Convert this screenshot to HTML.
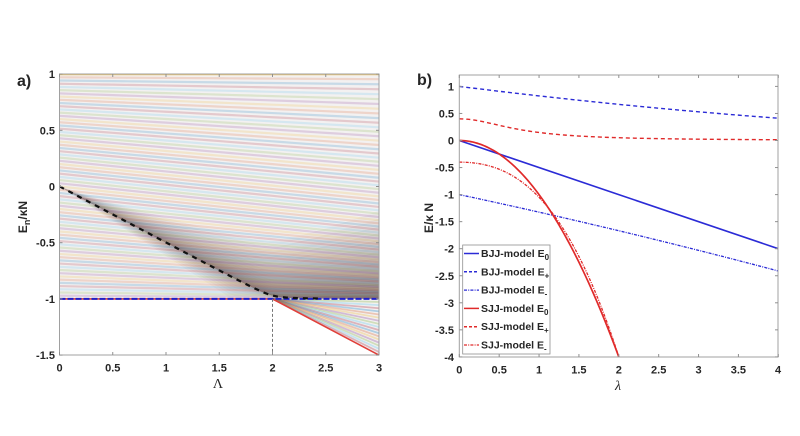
<!DOCTYPE html>
<html><head><meta charset="utf-8">
<style>
html,body{margin:0;padding:0;background:#fff;}
svg{display:block;}
text{font-family:"Liberation Sans",Arial,sans-serif;fill:#262626;}
.tk{font-size:11px;font-weight:bold;}
.lg{font-size:10.5px;font-weight:bold;}
</style></head><body>
<svg id="s" width="800" height="436" viewBox="0 0 800 436" xmlns="http://www.w3.org/2000/svg">
<defs>
<clipPath id="cl"><rect x="59.5" y="74" width="319.5" height="281"/></clipPath>
<clipPath id="cr"><rect x="459.3" y="75" width="318.7" height="282"/></clipPath>
</defs>
<rect x="0" y="0" width="800" height="436" fill="#fff"/>
<g id="left" clip-path="url(#cl)"></g>
<g id="right" clip-path="url(#cr)"></g>

<!-- left axes -->
<rect x="59.5" y="74" width="319.5" height="281" fill="none" stroke="#a0a0a0" stroke-width="1"/>
<g id="lticks" stroke="#909090" stroke-width="1"></g>
<g class="tk" text-anchor="end">
<text x="55" y="78">1</text>
<text x="55" y="134.3">0.5</text>
<text x="55" y="190.5">0</text>
<text x="55" y="246.7">-0.5</text>
<text x="55" y="302.9">-1</text>
<text x="55" y="359.1">-1.5</text>
</g>
<g class="tk" text-anchor="middle">
<text x="59.5" y="371.5">0</text>
<text x="112.75" y="371.5">0.5</text>
<text x="166" y="371.5">1</text>
<text x="219.25" y="371.5">1.5</text>
<text x="272.5" y="371.5">2</text>
<text x="325.75" y="371.5">2.5</text>
<text x="379" y="371.5">3</text>
</g>
<text x="218" y="388" text-anchor="middle" style="font-family:'Liberation Serif',serif;font-size:14px;">Λ</text>
<text transform="translate(27,217) rotate(-90)" text-anchor="middle" style="font-size:12px;font-weight:bold;">E<tspan dy="3" font-size="9">n</tspan><tspan dy="-3">/κN</tspan></text>
<text x="17" y="86" style="font-size:16px;font-weight:bold;">a)</text>

<!-- right axes -->
<rect x="459.3" y="75" width="318.7" height="282" fill="none" stroke="#a0a0a0" stroke-width="1"/>
<g id="rticks" stroke="#909090" stroke-width="1"></g>
<g class="tk" text-anchor="end">
<text x="454" y="90.4">1</text>
<text x="454" y="117.5">0.5</text>
<text x="454" y="144.5">0</text>
<text x="454" y="171.6">-0.5</text>
<text x="454" y="198.6">-1</text>
<text x="454" y="225.7">-1.5</text>
<text x="454" y="252.7">-2</text>
<text x="454" y="279.8">-2.5</text>
<text x="454" y="306.8">-3</text>
<text x="454" y="333.9">-3.5</text>
<text x="454" y="360.9">-4</text>
</g>
<g class="tk" text-anchor="middle">
<text x="459.3" y="373.5">0</text>
<text x="499.2" y="373.5">0.5</text>
<text x="539.1" y="373.5">1</text>
<text x="578.9" y="373.5">1.5</text>
<text x="618.8" y="373.5">2</text>
<text x="658.7" y="373.5">2.5</text>
<text x="698.6" y="373.5">3</text>
<text x="738.4" y="373.5">3.5</text>
<text x="778" y="373.5">4</text>
</g>
<text x="618" y="390" text-anchor="middle" style="font-family:'Liberation Serif',serif;font-size:14px;font-style:italic;">λ</text>
<text transform="translate(433,218) rotate(-90)" text-anchor="middle" style="font-size:12px;font-weight:bold;">E/κ N</text>
<text x="417" y="85" style="font-size:16px;font-weight:bold;">b)</text>

<!-- legend -->
<rect x="462.7" y="245" width="87.3" height="109" fill="#fff" stroke="#909090" stroke-width="0.8"/>
<g fill="none" stroke-width="1.5">
<line x1="464" y1="253.5" x2="479" y2="253.5" stroke="#2b2bd6"/>
<line x1="464" y1="271.8" x2="479" y2="271.8" stroke="#2b2bd6" stroke-dasharray="3 2"/>
<line x1="464" y1="290.1" x2="479" y2="290.1" stroke="#2b2bd6" stroke-dasharray="3 1.2 1 1.2" stroke-width="1.2"/>
<line x1="464" y1="308.4" x2="479" y2="308.4" stroke="#e02a2a"/>
<line x1="464" y1="326.7" x2="479" y2="326.7" stroke="#e02a2a" stroke-dasharray="3 2"/>
<line x1="464" y1="345" x2="479" y2="345" stroke="#e02a2a" stroke-dasharray="3 1.2 1 1.2" stroke-width="1.2"/>
</g>
<g class="lg">
<text x="481" y="257">BJJ-model E<tspan dy="3" font-size="8">0</tspan></text>
<text x="481" y="275.3">BJJ-model E<tspan dy="3" font-size="8">+</tspan></text>
<text x="481" y="293.6">BJJ-model E<tspan dy="3" font-size="8">-</tspan></text>
<text x="481" y="311.9">SJJ-model E<tspan dy="3" font-size="8">0</tspan></text>
<text x="481" y="330.2">SJJ-model E<tspan dy="3" font-size="8">+</tspan></text>
<text x="481" y="348.5">SJJ-model E<tspan dy="3" font-size="8">-</tspan></text>
</g>
</svg>
<script>
(function(){
const NS="http://www.w3.org/2000/svg";
function el(p,tag,a){const e=document.createElementNS(NS,tag);for(const k in a)e.setAttribute(k,a[k]);p.appendChild(e);return e;}
/* ---------- left panel ---------- */
const X=L=>59.5+L*106.5, Y=E=>186.5-E*112.4;
function C(L){const x=1-L/2,eps=0.06;return -1+(x+Math.sqrt(x*x+eps*eps))/2;}
const cols=["#0072BD","#D95319","#EDB120","#7E2F8E","#77AC30","#4DBEEE","#A2142F"];
const gl=document.getElementById('left');
function pts(fn,L0,L1,n){const a=[];for(let i=0;i<=n;i++){const L=L0+(L1-L0)*i/n;a.push(X(L).toFixed(2)+' '+Y(fn(L)).toFixed(2));}return a;}
function pathFrom(fn,L0,L1,n){const a=pts(fn,L0,L1,n);return 'M'+a.join('L');}
// faint background tint of the populated region
el(gl,'path',{d:'M'+X(0)+' '+Y(1)+'L'+X(3)+' '+Y(1)+'L'+X(3)+' '+Y(-1.5)+'L'+X(2)+' '+Y(-1)+'L'+X(0)+' '+Y(-1)+'Z',fill:'#8a7a78','fill-opacity':0.1});
const M=70;
for(let k=1;k<=M;k++){const e0=-1+2*k/M;
  el(gl,'path',{d:pathFrom(L=>e0-0.1*(1-e0*e0)*L,0,3,30),stroke:cols[(k+2)%7],'stroke-width':2.2,'stroke-opacity':k===M?0.6:0.18,fill:'none'});}
// fan below -1 for L>2
const J=18;
for(let j=1;j<J;j++){const f=j/J;
  el(gl,'path',{d:'M'+X(2)+' '+Y(-1)+'L'+X(3)+' '+Y(-1-0.5*f),stroke:cols[(j+3)%7],'stroke-width':1.8,'stroke-opacity':0.28,fill:'none'});}
// dark band above curve (stacked translucent polygons)
const B=L=>0.2*L+0.02*L*L;
const nb=22;
for(let i=1;i<=nb;i++){const f=Math.pow(i/nb,2);
  const top=pts(L=>C(L)+f*B(L),0,3,60), bot=pts(C,0,3,60).reverse();
  el(gl,'path',{d:'M'+top.join('L')+'L'+bot.join('L')+'Z',fill:'#4e3a2c','fill-opacity':0.038});}
// band below curve
const nd=10;
for(let i=1;i<=nd;i++){const f=Math.pow(i/nd,1.5);
  const bt=pts(L=>Math.max(-1,C(L)-f*Math.min(0.12*L,C(L)+1)),0,3,60).reverse(), tp=pts(C,0,3,60);
  el(gl,'path',{d:'M'+tp.join('L')+'L'+bt.join('L')+'Z',fill:'#4e3a2c','fill-opacity':0.04});}
el(gl,'path',{d:'M'+X(0)+' '+Y(-1)+'L'+X(2)+' '+Y(-1)+'L'+X(3)+' '+Y(-1.5),stroke:'#e0403a','stroke-width':1.6,fill:'none'});
el(gl,'path',{d:'M'+X(0)+' '+Y(-1)+'L'+X(3)+' '+Y(-1),stroke:'#2020c8','stroke-width':2,'stroke-dasharray':'6 2',fill:'none'});
el(gl,'path',{d:pathFrom(C,0,2.45,60),stroke:'#111','stroke-width':2.2,'stroke-dasharray':'5 5',fill:'none'});
el(gl,'path',{d:'M'+X(2)+' '+Y(-1)+'L'+X(2)+' '+Y(-1.5),stroke:'#777','stroke-width':1,'stroke-dasharray':'3 2',fill:'none'});
// ticks left
const lt=document.getElementById('lticks');
for(let L=0;L<=3.001;L+=0.5){el(lt,'line',{x1:X(L),y1:355,x2:X(L),y2:352});el(lt,'line',{x1:X(L),y1:74,x2:X(L),y2:77});}
for(let E=-1.5;E<=1.001;E+=0.5){el(lt,'line',{x1:59.5,y1:Y(E),x2:62.5,y2:Y(E)});el(lt,'line',{x1:379,y1:Y(E),x2:376,y2:Y(E)});}
/* ---------- right panel ---------- */
const XR=l=>459.3+l*79.75, YR=E=>140.5-E*54.1;
function pr(fn,l0,l1,n){let d='';for(let i=0;i<=n;i++){const l=l0+(l1-l0)*i/n;d+=(i?'L':'M')+XR(l).toFixed(2)+' '+YR(fn(l)).toFixed(2);}return d;}
const gr=document.getElementById('right');
const blue="#2b2bd6", red="#e02a2a";
const fP=l=>1-0.185*l+0.0095*l*l;
el(gr,'path',{d:pr(l=>0.4/(1+1.7*l*l),0,4,120),stroke:red,'stroke-width':1.4,'stroke-dasharray':'4 3',fill:'none'});
el(gr,'path',{d:pr(fP,0,4,80),stroke:blue,'stroke-width':1.4,'stroke-dasharray':'4 3',fill:'none'});
el(gr,'path',{d:pr(l=>-l/2-fP(l),0,4,80),stroke:blue,'stroke-width':1.3,'stroke-dasharray':'3 1.2 1 1.2',fill:'none'});
el(gr,'path',{d:pr(l=>-l/2,0,4,2),stroke:blue,'stroke-width':1.6,fill:'none'});
el(gr,'path',{d:pr(l=>-0.4-0.4*l*l-0.25*l*l*l,0,2.05,100),stroke:red,'stroke-width':1.3,'stroke-dasharray':'3 1.2 1 1.2',fill:'none'});
el(gr,'path',{d:pr(l=>-l*l,0,2.05,100),stroke:red,'stroke-width':1.7,fill:'none'});
const rt=document.getElementById('rticks');
for(let l=0;l<=4.001;l+=0.5){el(rt,'line',{x1:XR(l),y1:357,x2:XR(l),y2:354});el(rt,'line',{x1:XR(l),y1:75,x2:XR(l),y2:78});}
for(let E=-4;E<=1.001;E+=0.5){el(rt,'line',{x1:459.3,y1:YR(E),x2:462.3,y2:YR(E)});el(rt,'line',{x1:778,y1:YR(E),x2:775,y2:YR(E)});}
})();
</script>
</body></html>
